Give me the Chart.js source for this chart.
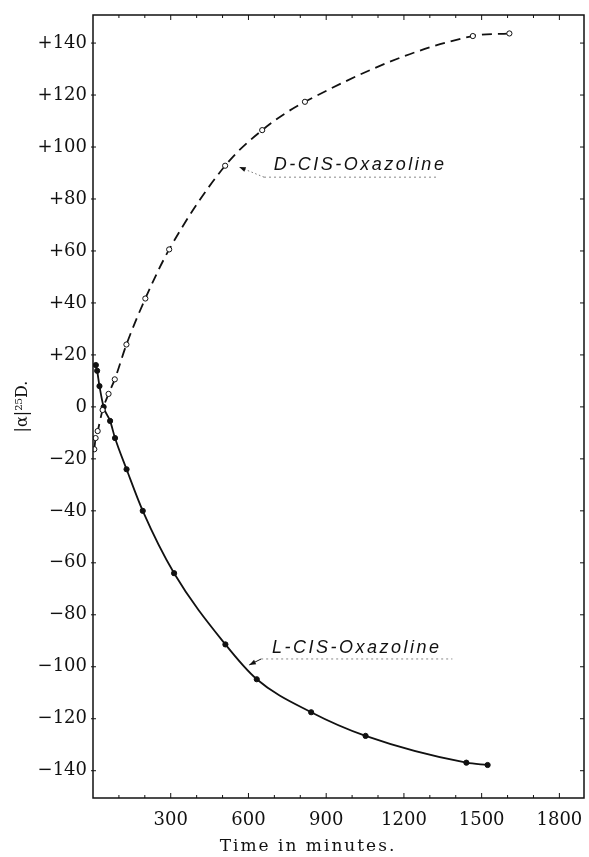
<!DOCTYPE html>
<html>
<head>
<meta charset="utf-8">
<script src="https://cdn.jsdelivr.net/npm/chart.js@4/dist/chart.umd.min.js"></script>
<style>
  html, body { margin: 0; padding: 0; background: #fff; }
  canvas { display: block; }
</style>
</head>
<body>
<canvas id="c" width="589" height="857"></canvas>
<script>
// ---- data ----
const dCisTime  = [5, 10, 18, 37, 60, 84, 129, 202, 294, 510, 653, 818, 1466, 1607];
const dCisAlpha = [-16.3, -12, -9.3, -1.2, 5, 10.6, 24, 41.7, 60.6, 92.8, 106.5, 117.4, 142.7, 143.7];

const lCisTime  = [11, 16, 25, 41, 66, 85, 129.5, 192, 313, 511, 632, 842, 1052, 1441, 1523];
const lCisAlpha = [16.1, 13.9, 8, 0, -5.4, -12, -24, -40, -64, -91.4, -104.8, -117.5, -126.6, -136.9, -137.8];

const xTickLabels = [300, 600, 900, 1200, 1500, 1800];
const yTickValues = [-140, -120, -100, -80, -60, -40, -20, 0, 20, 40, 60, 80, 100, 120, 140];

const xTitle = 'Time in minutes.';
const yTitle = '|α|²⁵D.';
const dLabel = 'D-CIS-Oxazoline';
const lLabel = 'L-CIS-Oxazoline';

const toXY = (xs, ys) => xs.map((x, i) => ({ x: x, y: ys[i] }));

function spacedText(ctx, text, x, y, spacing) {
  let cx = x;
  for (const ch of text) {
    ctx.fillText(ch, cx, y);
    cx += ctx.measureText(ch).width + spacing;
  }
  return cx;
}
function spacedWidth(ctx, text, spacing) {
  let w = 0;
  for (const ch of text) w += ctx.measureText(ch).width + spacing;
  return w - spacing;
}

const framePlugin = {
  id: 'frame',
  afterDatasetsDraw(chart) {
    const { ctx, chartArea: a, scales: { x, y } } = chart;
    ctx.save();
    ctx.strokeStyle = '#111';
    ctx.lineWidth = 1.5;
    ctx.strokeRect(a.left, a.top, a.right - a.left, a.bottom - a.top);
    ctx.lineWidth = 1;
    for (let v = 100; v <= x.max; v += 100) {
      const px = x.getPixelForValue(v);
      const len = (v % 300 === 0) ? 5 : 3;
      ctx.beginPath();
      ctx.moveTo(px, a.bottom); ctx.lineTo(px, a.bottom - len);
      ctx.moveTo(px, a.top); ctx.lineTo(px, a.top + len);
      ctx.stroke();
    }
    for (const v of yTickValues) {
      const py = y.getPixelForValue(v);
      ctx.beginPath();
      ctx.moveTo(a.left - 2, py); ctx.lineTo(a.left + 3, py);
      ctx.moveTo(a.right, py); ctx.lineTo(a.right - 4, py);
      ctx.stroke();
    }
    ctx.restore();
  }
};

function drawAnnotation(ctx, x, y, ann) {
  const tipX = x.getPixelForValue(ann.tip[0]), tipY = y.getPixelForValue(ann.tip[1]);
  const lx = x.getPixelForValue(ann.leader[0]), ly = y.getPixelForValue(ann.leader[1]);
  const tx = x.getPixelForValue(ann.text[0]), ty = y.getPixelForValue(ann.text[1]);
  const ux2 = x.getPixelForValue(ann.underlineEnd);
  ctx.save();
  ctx.fillStyle = '#111';
  // leader
  ctx.strokeStyle = ann.dotted ? '#777' : '#111';
  ctx.lineWidth = 1;
  if (ann.dotted) ctx.setLineDash([1.5, 2.5]);
  ctx.beginPath();
  ctx.moveTo(lx, ly); ctx.lineTo(tipX, tipY);
  ctx.stroke();
  // underline (faint dotted)
  ctx.strokeStyle = '#888';
  ctx.setLineDash([2, 3]);
  ctx.beginPath();
  ctx.moveTo(lx, ly); ctx.lineTo(ux2, ly);
  ctx.stroke();
  ctx.setLineDash([]);
  // arrow head
  const ang = Math.atan2(tipY - ly, tipX - lx);
  const hl = 7, hw = 0.35;
  ctx.beginPath();
  ctx.moveTo(tipX, tipY);
  ctx.lineTo(tipX - hl * Math.cos(ang - hw), tipY - hl * Math.sin(ang - hw));
  ctx.lineTo(tipX - hl * Math.cos(ang + hw), tipY - hl * Math.sin(ang + hw));
  ctx.closePath();
  ctx.fill();
  ctx.font = 'italic 18px "Liberation Sans", Arial, sans-serif';
  ctx.textBaseline = 'middle';
  ctx.textAlign = 'left';
  spacedText(ctx, ann.label, tx, ty, 2.5);
  ctx.restore();
}

const annotationPlugin = {
  id: 'notes',
  afterDatasetsDraw(chart) {
    const { ctx, scales: { x, y } } = chart;
    drawAnnotation(ctx, x, y, { label: dLabel, tip: [564, 92.3], leader: [660, 88.4], text: [698, 93.1], underlineEnd: 1330, dotted: true });
    drawAnnotation(ctx, x, y, { label: lLabel, tip: [603, -99.3], leader: [649, -97], text: [691, -92.6], underlineEnd: 1387, dotted: false });
    ctx.save();
    ctx.fillStyle = '#111';
    ctx.font = '17px "DejaVu Serif", serif';
    ctx.textBaseline = 'alphabetic';
    const w = spacedWidth(ctx, xTitle, 2);
    spacedText(ctx, xTitle, 307 - w / 2, 851, 2);
    ctx.restore();
  }
};

const fmtY = v => v > 0 ? '+' + v : (v < 0 ? '\u2212' + Math.abs(v) : '0');

new Chart(document.getElementById('c'), {
  type: 'scatter',
  data: {
    datasets: [
      {
        label: dLabel,
        data: toXY(dCisTime, dCisAlpha),
        showLine: true,
        borderColor: '#111',
        borderWidth: 1.8,
        borderDash: [10, 6],
        cubicInterpolationMode: 'monotone',
        pointStyle: 'circle',
        pointRadius: 2.6,
        pointBorderWidth: 1,
        pointBackgroundColor: '#fff',
        pointBorderColor: '#111'
      },
      {
        label: lLabel,
        data: toXY(lCisTime, lCisAlpha),
        showLine: true,
        borderColor: '#111',
        borderWidth: 1.8,
        cubicInterpolationMode: 'monotone',
        pointStyle: 'circle',
        pointRadius: 2.6,
        pointBorderWidth: 1,
        pointBackgroundColor: '#111',
        pointBorderColor: '#111'
      }
    ]
  },
  options: {
    responsive: false,
    animation: false,
    layout: { padding: { top: 15, right: 1, left: 0, bottom: 0 } },
    plugins: { legend: { display: false }, tooltip: { enabled: false } },
    scales: {
      x: {
        type: 'linear',
        min: 0, max: 1895,
        grid: { display: false, drawTicks: false },
        border: { display: false },
        afterBuildTicks: s => { s.ticks = xTickLabels.map(v => ({ value: v })); },
        afterFit: s => { s.height = 59; s.paddingLeft = 0; s.paddingRight = 0; },
        ticks: {
          autoSkip: false, maxRotation: 0, padding: 12, color: '#111',
          font: { family: '"DejaVu Serif", serif', size: 18 },
          callback: v => String(v)
        },
        title: { display: false }
      },
      y: {
        type: 'linear',
        min: -150.5, max: 150.8,
        grid: { display: false, drawTicks: false },
        border: { display: false },
        afterBuildTicks: s => { s.ticks = yTickValues.map(v => ({ value: v })); },
        afterFit: s => { s.width = 93; s.paddingTop = 0; s.paddingBottom = 0; },
        ticks: {
          autoSkip: false, padding: 6, color: '#111',
          font: { family: '"DejaVu Serif", serif', size: 18 },
          callback: v => fmtY(v)
        },
        title: {
          display: true, text: yTitle, color: '#111',
          font: { family: '"DejaVu Serif", serif', size: 16 },
          padding: { top: 13, bottom: 0 }
        }
      }
    }
  },
  plugins: [framePlugin, annotationPlugin]
});
</script>
</body>
</html>
